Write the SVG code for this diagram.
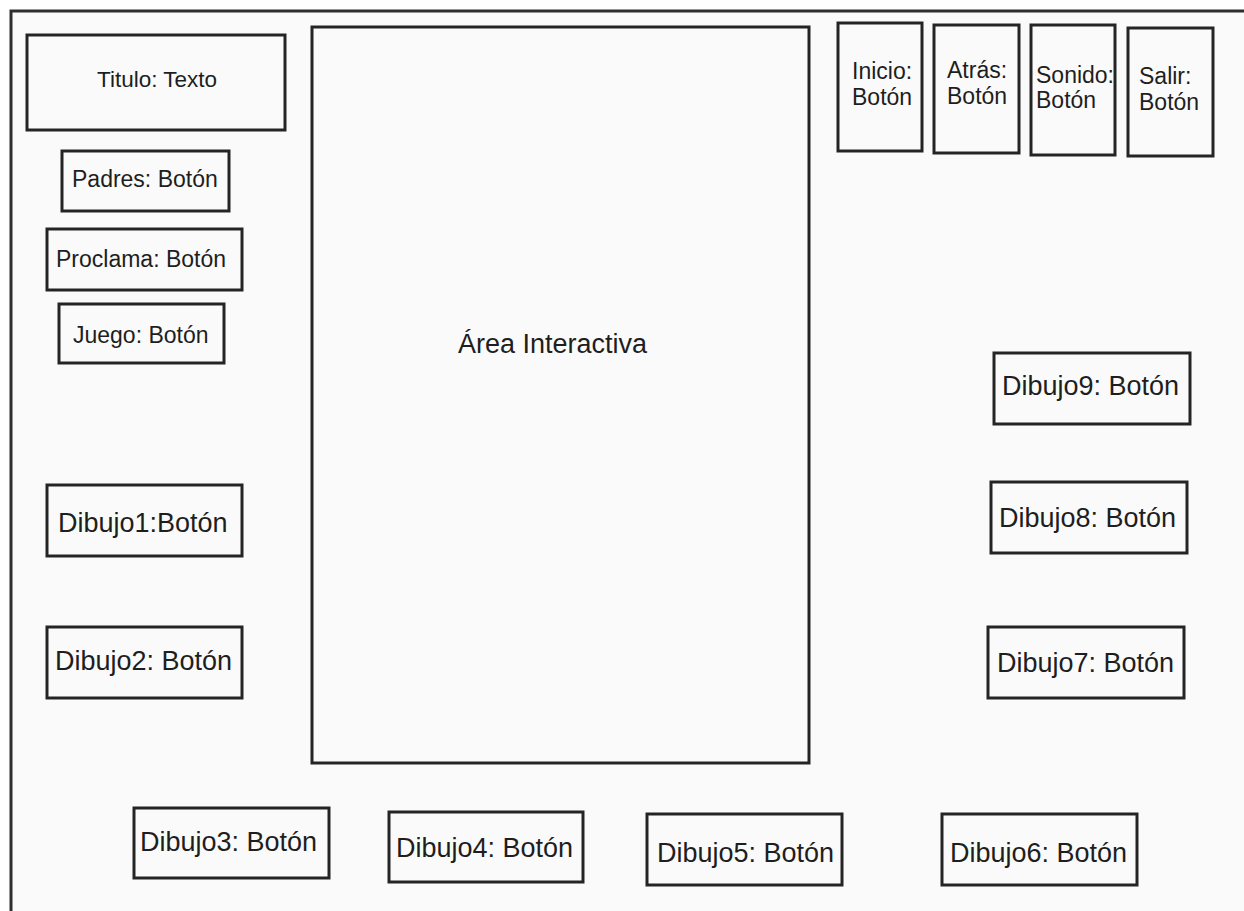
<svg xmlns="http://www.w3.org/2000/svg" width="1244" height="911" viewBox="0 0 1244 911">
  <style>
    .box { fill: none; stroke: #242424; stroke-width: 3; }
    .lbl { font-family: "Liberation Sans", Arial, sans-serif; fill: #1e1e1e; }
    .big { font-size: 27px; }
    .small { font-size: 23px; }
  </style>
  <rect x="0" y="0" width="1244" height="911" fill="#ffffff"/>
  <!-- screen frame (runs off the right and bottom edges) -->
  <rect id="frame" x="11" y="11" width="1260" height="930" fill="#fafafa" stroke="#2e2e2e" stroke-width="3"/>

  <g id="titulo">
    <rect class="box" x="27" y="35" width="258" height="95"/>
    <text class="lbl" x="97" y="87" font-size="22.5">Titulo: Texto</text>
  </g>
  <g id="padres">
    <rect class="box" x="62" y="151" width="167" height="60"/>
    <text class="lbl small" x="72" y="187">Padres: Botón</text>
  </g>
  <g id="proclama">
    <rect class="box" x="47" y="229" width="195" height="61"/>
    <text class="lbl small" x="56" y="267">Proclama: Botón</text>
  </g>
  <g id="juego">
    <rect class="box" x="59" y="304" width="165" height="59"/>
    <text class="lbl small" x="73" y="343">Juego: Botón</text>
  </g>

  <g id="area">
    <rect class="box" x="312" y="27" width="497" height="736"/>
    <text class="lbl big" x="458" y="353">Área Interactiva</text>
  </g>

  <g id="inicio">
    <rect class="box" x="838" y="23" width="84" height="128"/>
    <text class="lbl small" x="852" y="79">Inicio:</text>
    <text class="lbl small" x="852" y="105">Botón</text>
  </g>
  <g id="atras">
    <rect class="box" x="934" y="25" width="85" height="128"/>
    <text class="lbl small" x="947" y="78">Atrás:</text>
    <text class="lbl small" x="947" y="104">Botón</text>
  </g>
  <g id="sonido">
    <rect class="box" x="1031" y="25" width="84" height="130"/>
    <text class="lbl small" x="1036" y="83">Sonido:</text>
    <text class="lbl small" x="1036" y="108">Botón</text>
  </g>
  <g id="salir">
    <rect class="box" x="1128" y="28" width="85" height="128"/>
    <text class="lbl small" x="1139" y="84">Salir:</text>
    <text class="lbl small" x="1139" y="110">Botón</text>
  </g>

  <g id="dibujo1">
    <rect class="box" x="47" y="485" width="195" height="71"/>
    <text class="lbl big" x="58" y="532">Dibujo1:Botón</text>
  </g>
  <g id="dibujo2">
    <rect class="box" x="47" y="627" width="195" height="71"/>
    <text class="lbl big" x="55" y="670">Dibujo2: Botón</text>
  </g>
  <g id="dibujo3">
    <rect class="box" x="134" y="808" width="195" height="70"/>
    <text class="lbl big" x="140" y="851">Dibujo3: Botón</text>
  </g>
  <g id="dibujo4">
    <rect class="box" x="389" y="812" width="194" height="70"/>
    <text class="lbl big" x="396" y="857">Dibujo4: Botón</text>
  </g>
  <g id="dibujo5">
    <rect class="box" x="647" y="814" width="195" height="71"/>
    <text class="lbl big" x="657" y="862">Dibujo5: Botón</text>
  </g>
  <g id="dibujo6">
    <rect class="box" x="942" y="814" width="195" height="71"/>
    <text class="lbl big" x="950" y="862">Dibujo6: Botón</text>
  </g>
  <g id="dibujo7">
    <rect class="box" x="988" y="627" width="196" height="71"/>
    <text class="lbl big" x="997" y="672">Dibujo7: Botón</text>
  </g>
  <g id="dibujo8">
    <rect class="box" x="991" y="482" width="196" height="71"/>
    <text class="lbl big" x="999" y="527">Dibujo8: Botón</text>
  </g>
  <g id="dibujo9">
    <rect class="box" x="994" y="353" width="196" height="71"/>
    <text class="lbl big" x="1002" y="395">Dibujo9: Botón</text>
  </g>

  <!-- no connectors in this layout -->
  <g id="connectors"/>
</svg>
